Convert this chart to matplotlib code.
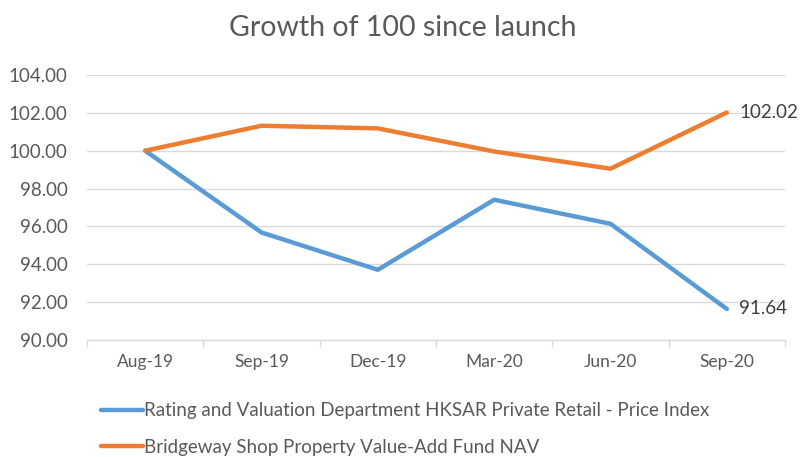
import matplotlib.pyplot as plt
import numpy as np

plt.rcParams["font.family"] = ["Lato", "DejaVu Sans"]

# chart data
categories = ["Aug-19", "Sep-19", "Dec-19", "Mar-20", "Jun-20", "Sep-20"]
rvd_index = [100.00, 95.68, 93.71, 97.41, 96.14, 91.64]
fund_nav = [100.00, 101.32, 101.18, 99.96, 99.05, 102.02]
series_names = ["Rating and Valuation Department HKSAR Private Retail - Price Index",
                "Bridgeway Shop Property Value-Add Fund NAV"]
y_ticks = [90, 92, 94, 96, 98, 100, 102, 104]

blue = "#5B9BD5"
orange = "#ED7D31"
grey_txt = "#595959"
grid_c = "#D9D9D9"

fig = plt.figure(figsize=(8.03, 4.57), dpi=100)
ax = fig.add_axes([87/803, 1-340/457, (785-87)/803, (340-75)/457])

x = np.arange(len(categories))
l1, = ax.plot(x, rvd_index, color=blue, lw=3.2, solid_capstyle="round", solid_joinstyle="round", zorder=3)
l2, = ax.plot(x, fund_nav, color=orange, lw=3.2, solid_capstyle="round", solid_joinstyle="round", zorder=3)

ax.set_xlim(-0.5, len(categories) - 0.5)
ax.set_ylim(90, 104)
ax.set_yticks(y_ticks)
ax.set_yticklabels(["%.2f" % v for v in y_ticks])
ax.set_xticks(x)
ax.set_xticklabels(categories)
ax.set_xticks(np.arange(-0.5, len(categories)), minor=True)
ax.tick_params(axis="x", which="major", length=0, pad=10, labelsize=12.5, labelcolor=grey_txt)
ax.tick_params(axis="x", which="minor", length=5, color=grid_c, width=1, direction="out")
ax.tick_params(axis="y", length=0, pad=14, labelsize=13.5, labelcolor=grey_txt)

ax.grid(axis="y", color=grid_c, lw=1)
ax.set_axisbelow(True)
for s in ["top", "right", "left"]:
    ax.spines[s].set_visible(False)
ax.spines["bottom"].set_color(grid_c)
ax.spines["bottom"].set_linewidth(1)

# end labels
for vals in (fund_nav, rvd_index):
    ax.annotate("%.2f" % vals[-1], (x[-1], vals[-1]), xytext=(9, 0),
                textcoords="offset points", va="center", ha="left", fontsize=13.5, color="#404040",
                annotation_clip=False)

fig.text(403/803, 1-28/457, "Growth of 100 since launch", ha="center", va="center",
         fontsize=20.5, color=grey_txt)

leg = fig.legend([l1, l2], series_names, loc="upper left", bbox_to_anchor=(90/803, 1-391/457),
                 frameon=False, fontsize=13.5, handlelength=2.25, handletextpad=0.05,
                 labelspacing=1.05, labelcolor=grey_txt, borderaxespad=0.2)

fig.savefig("out.png", dpi=100)
